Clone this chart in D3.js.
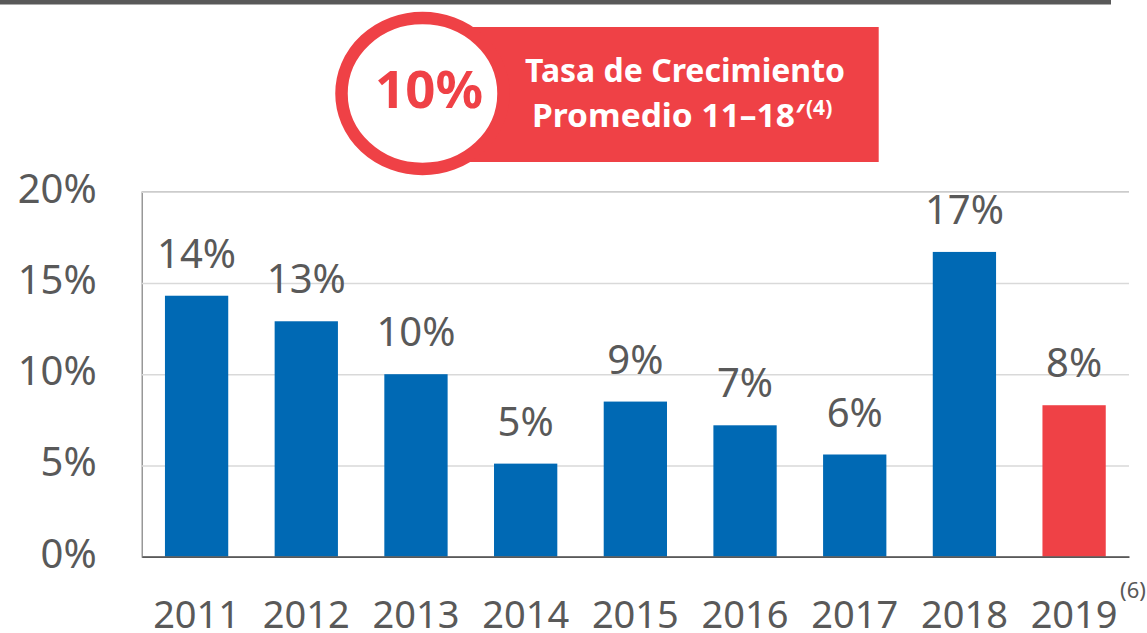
<!DOCTYPE html>
<html>
<head>
<meta charset="utf-8">
<script src="https://cdn.jsdelivr.net/npm/d3@7"></script>
<style>
  html, body { margin: 0; padding: 0; background: #fff; }
  svg { display: block; font-family: 'Noto Sans', 'Open Sans', sans-serif; }
</style>
</head>
<body>
<div class="chart-container"></div>
<script>
// data
const years = ['2011', '2012', '2013', '2014', '2015', '2016', '2017', '2018', '2019']
const growth = [14.3, 12.9, 10.0, 5.1, 8.5, 7.2, 5.6, 16.7, 8.3]
const labels = ['14%', '13%', '10%', '5%', '9%', '7%', '6%', '17%', '8%']
const yTicks = [0, 5, 10, 15, 20]
const highlightYear = '2019'
const badgeValue = '10%'
const badgeLines = ['Tasa de Crecimiento', 'Promedio 11\u201318\u2032']

const width = 1147
const height = 633
const margin = { top: 191.7, right: 18, bottom: 76.3, left: 141.7 }

const blue = '#0069b4'
const red = '#ef4146'
const grey = '#595959'

const svg = d3
  .select('.chart-container')
  .append('svg')
  .attr('width', width)
  .attr('height', height)
  .attr('viewBox', '0 0 ' + width + ' ' + height)

// dark rule along the top
svg.append('rect')
  .attr('x', 0).attr('y', 0)
  .attr('width', 1111).attr('height', 4.5)
  .attr('fill', grey)

const x = d3
  .scaleBand()
  .domain(years)
  .range([margin.left, width - margin.right])
  .paddingInner(0.423)
  .paddingOuter(0.212)

const y = d3
  .scaleLinear()
  .domain([0, 20])
  .range([height - margin.bottom, margin.top])

// y axis + gridlines
const yAxis = svg.append('g')
  .attr('transform', `translate(${margin.left},0)`)
  .call(
    d3.axisLeft(y)
      .tickValues(yTicks)
      .tickSize(-(width - margin.right - margin.left))
      .tickPadding(45)
      .tickFormat((d) => d + '%')
  )
yAxis.select('.domain').attr('stroke', '#7f7f7f').attr('stroke-width', 1.2)
yAxis.selectAll('.tick line').attr('stroke', '#d9d9d9').attr('stroke-width', 1.5)
yAxis.selectAll('.tick text')
  .attr('fill', grey)
  .attr('font-size', 40)
  .attr('font-family', "'Noto Sans', sans-serif")
  .attr('dy', '0.26em')

// bars
const data = years.map((yr, i) => ({ year: yr, value: growth[i], label: labels[i] }))

svg.append('g')
  .selectAll('rect')
  .data(data)
  .enter()
  .append('rect')
  .attr('x', (d) => x(d.year))
  .attr('y', (d) => y(d.value))
  .attr('width', x.bandwidth())
  .attr('height', (d) => y(0) - y(d.value))
  .attr('fill', (d) => (d.year === highlightYear ? red : blue))

// value labels
svg.append('g')
  .selectAll('text')
  .data(data)
  .enter()
  .append('text')
  .attr('x', (d) => x(d.year) + x.bandwidth() / 2)
  .attr('y', (d) => y(d.value) - 28)
  .attr('text-anchor', 'middle')
  .attr('font-size', 40)
  .attr('fill', grey)
  .text((d) => d.label)

// x axis
const xAxis = svg.append('g')
  .attr('transform', `translate(0,${y(0)})`)
  .call(d3.axisBottom(x).tickSize(0).tickPadding(0))
xAxis.select('.domain').attr('stroke', grey).attr('stroke-width', 1.8)
xAxis.selectAll('.tick text')
  .attr('y', 71)
  .attr('dy', 0)
  .attr('fill', grey)
  .attr('font-size', 38)
  .attr('font-family', "'Noto Sans', sans-serif")

// footnote mark on the last year
svg.append('text')
  .attr('x', x(highlightYear) + x.bandwidth() / 2 + 46)
  .attr('y', 598)
  .attr('font-size', 22)
  .attr('fill', grey)
  .text('(6)')

// badge
const badge = svg.append('g').attr('class', 'badge')

badge.append('rect')
  .attr('x', 470).attr('y', 27)
  .attr('width', 408.7).attr('height', 135)
  .attr('fill', red)

badge.append('ellipse')
  .attr('cx', 422.5).attr('cy', 93.5)
  .attr('rx', 81).attr('ry', 75.5)
  .attr('fill', '#fff')
  .attr('stroke', red)
  .attr('stroke-width', 12.5)

badge.append('text')
  .attr('x', 429).attr('y', 108)
  .attr('text-anchor', 'middle')
  .attr('font-size', 52)
  .attr('font-weight', 700)
  .attr('fill', red)
  .attr('textLength', 108)
  .attr('lengthAdjust', 'spacingAndGlyphs')
  .text(badgeValue)

badge.append('text')
  .attr('x', 525).attr('y', 82)
  .attr('font-size', 33)
  .attr('font-weight', 700)
  .attr('fill', '#fff')
  .attr('textLength', 320)
  .attr('lengthAdjust', 'spacingAndGlyphs')
  .text(badgeLines[0])

const line2 = badge.append('text')
  .attr('x', 532).attr('y', 127)
  .attr('font-size', 33)
  .attr('font-weight', 700)
  .attr('fill', '#fff')
line2.append('tspan')
  .attr('textLength', 273)
  .attr('lengthAdjust', 'spacingAndGlyphs')
  .text(badgeLines[1])
line2.append('tspan')
  .attr('x', 806)
  .attr('y', 115)
  .attr('font-size', 21)
  .text('(4)')
</script>
</body>
</html>
